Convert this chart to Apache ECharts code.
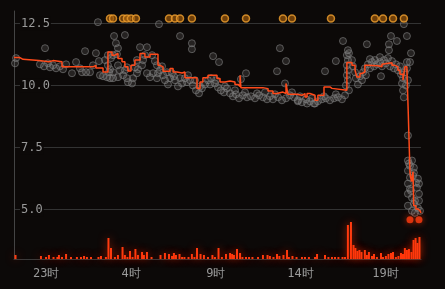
<!DOCTYPE html>
<html><head><meta charset="utf-8">
<script src="https://cdn.jsdelivr.net/npm/echarts@6/dist/echarts.min.js"></script>
<style>html,body{margin:0;padding:0;background:#0c0908;}#c{width:445px;height:289px;}</style>
</head><body><div id="c"></div>
<script>
// time in hours since midnight of day 1 (24+ = next day), price values
const xRange = [21.1, 45.1];
const yTicks = [5, 7.5, 10, 12.5];
const xTicks = [23, 28, 33, 38, 43];

const stepLine = [[21.1,11.12],[21.45,11.05],[21.63,11.0],[22.57,10.95],[23.16,11.0],[23.4,10.95],[23.93,10.75],[25.76,10.81],[25.93,10.70],[26.35,10.54],[26.64,11.35],[26.88,11.22],[27.05,11.29],[27.23,11.08],[27.47,10.95],[27.64,10.75],[27.82,10.58],[28.0,10.81],[28.23,11.02],[28.53,11.29],[28.82,11.15],[29.12,11.26],[29.59,10.81],[29.71,10.75],[29.89,10.57],[30.3,10.68],[30.48,10.54],[30.71,10.50],[31.01,10.54],[31.18,10.31],[31.89,9.87],[32.07,10.14],[32.24,10.31],[32.54,10.41],[33.07,10.28],[33.25,10.14],[33.54,10.18],[33.84,10.14],[34.13,10.04],[34.31,9.96],[34.43,10.41],[34.48,9.91],[35.78,9.87],[36.08,9.77],[36.37,9.67],[36.61,9.73],[36.96,9.67],[37.14,10.08],[37.25,9.64],[37.78,9.60],[38.08,9.67],[38.26,9.53],[38.38,9.67],[38.55,9.60],[38.85,9.40],[39.02,9.60],[39.38,9.94],[39.73,9.88],[39.85,9.80],[40.73,10.92],[41.03,10.81],[41.21,10.61],[41.32,10.34],[41.5,10.48],[41.62,10.54],[41.79,10.81],[41.91,10.79],[42.56,10.75],[42.8,10.85],[42.86,10.91],[43.39,10.81],[43.56,10.75],[43.74,10.61],[43.86,10.45],[44.04,10.21],[44.15,10.75],[44.27,10.61],[44.35,8.87],[44.45,6.48],[44.54,6.12],[44.63,6.52],[44.67,5.15],[44.8,5.02],[44.92,4.94],[45.04,4.86],[45.1,4.86]];

const trades = [[21.16,10.89],[21.22,11.10],[22.63,10.85],[22.87,10.77],[23.10,10.89],[23.22,10.73],[23.40,10.81],[23.58,10.69],[23.81,10.77],[23.99,10.65],[24.17,10.85],[22.93,11.50],[24.52,10.49],[24.76,10.94],[24.99,10.69],[25.11,10.53],[25.35,10.53],[25.58,10.53],[25.29,11.38],[25.93,11.30],[26.11,10.98],[26.05,12.55],[25.76,10.81],[26.17,10.41],[26.35,10.37],[26.58,10.33],[26.47,11.02],[26.64,10.81],[26.76,10.65],[26.64,11.22],[26.70,10.53],[26.76,10.29],[26.94,10.29],[26.82,11.10],[26.94,11.22],[27.17,11.26],[27.23,11.50],[27.11,11.70],[27.00,11.99],[27.64,12.03],[26.94,10.53],[27.23,10.81],[27.35,10.61],[27.23,10.33],[27.53,10.41],[27.64,10.61],[27.76,10.73],[27.76,10.29],[27.82,10.13],[28.06,10.08],[28.12,10.29],[28.23,10.73],[28.35,10.49],[28.35,11.02],[28.41,10.65],[28.65,10.81],[28.71,11.02],[28.82,11.22],[28.53,11.54],[28.94,11.54],[28.94,10.49],[29.12,10.33],[29.24,11.22],[29.30,10.49],[29.41,10.98],[29.53,10.81],[29.53,10.29],[29.59,10.49],
[29.65,12.47],[30.89,11.99],[31.59,11.70],[31.59,11.46],[29.71,10.61],[29.89,10.41],[30.00,10.21],[30.18,10.04],[30.30,10.29],[30.42,10.49],[30.59,10.21],[30.77,9.96],[31.01,10.08],[31.18,10.29],[31.36,10.41],[31.48,10.21],[31.65,10.00],[31.83,9.80],[32.01,9.68],[32.18,9.88],[32.36,10.04],[32.54,10.21],[32.72,10.29],[32.84,11.18],[33.19,10.94],[32.95,10.08],[33.13,9.92],[33.30,9.80],[33.48,9.72],[33.66,9.88],[33.84,9.68],[34.01,9.56],[34.19,9.64],[34.37,9.48],[34.48,10.25],[34.78,10.49],[34.60,9.60],[34.84,9.52],[35.07,9.56],[35.31,9.48],[35.55,9.60],[35.78,9.52],[36.02,9.44],[36.19,9.56],[36.37,9.44],[36.61,10.57],[36.78,11.50],[37.14,10.98],[37.08,10.08],[36.67,9.52],[36.90,9.40],[37.14,9.48],[37.37,9.60],[37.61,9.52],[37.84,9.40],[38.08,9.32],[38.32,9.44],[38.55,9.36],[38.79,9.27],[39.02,9.36],[39.26,9.44],[39.49,9.48],[39.73,9.40],[39.97,9.48],[40.20,9.52],[40.44,9.44],[40.62,9.60],
[29.83,10.77],[30.12,10.53],[30.53,10.37],[30.89,10.29],[31.30,10.13],[31.77,10.21],[32.07,9.96],[32.66,10.04],[33.01,10.21],[33.54,9.96],[34.13,9.80],[34.72,9.72],[35.43,9.68],[35.90,9.72],[36.49,9.64],[37.49,9.72],[37.96,9.56],[38.67,9.48],[39.38,9.56],[40.08,9.64],
[37.84,9.36],[38.38,9.27],[38.85,9.27],[39.44,10.57],[40.08,10.98],[40.50,11.79],[40.67,10.00],[40.79,11.42],[40.85,11.30],[40.73,11.22],[40.79,11.02],[40.73,10.81],[40.79,10.61],[40.73,10.41],[40.79,10.21],[40.85,9.80],[41.03,11.02],[41.09,10.77],[41.21,10.53],[41.26,10.29],[41.38,10.04],[41.50,10.37],[41.62,10.21],[41.68,10.53],[41.79,10.69],[41.85,10.41],[41.91,11.66],[41.97,10.85],[42.09,11.06],[42.09,10.69],[42.21,10.94],[42.33,10.77],[42.38,11.02],[42.50,10.85],[42.68,11.14],[42.68,10.94],[42.74,10.37],[42.80,10.77],[42.92,11.02],[43.03,10.89],[43.15,11.10],[43.21,11.66],[43.21,11.42],[43.27,10.77],[43.33,11.99],[43.39,10.98],[43.50,10.69],[43.62,10.85],[43.68,11.79],[43.74,10.61],[43.86,10.77],[43.92,10.45],[43.98,10.08],[44.04,10.29],[44.04,9.80],[44.09,9.52],[44.09,12.47],[44.15,10.53],[44.21,10.00],[44.27,11.99],[44.27,10.69],[44.27,10.94],[44.33,10.21],[44.45,10.94],[44.51,11.30],
[44.33,7.98],[44.33,6.97],[44.57,6.97],[44.45,6.76],[44.68,6.68],[44.33,6.56],[44.68,6.48],[44.45,6.28],[44.92,6.24],[44.33,6.04],[44.98,6.04],[44.45,5.83],[44.86,5.87],[44.98,5.63],[44.33,5.63],[44.57,5.47],[44.74,5.35],[44.98,5.35],[44.33,5.15],[44.92,5.06],[44.57,4.94],[44.74,4.86],[45.04,4.94],[44.39,6.85],[44.63,6.36],[44.80,6.08],[44.51,5.75],[44.68,5.23]];

const highTrades = [[26.76,12.7],[26.94,12.7],[27.53,12.7],[27.76,12.7],[28.00,12.7],[28.29,12.7],[30.24,12.7],[30.59,12.7],[30.89,12.7],[31.59,12.7],[33.54,12.7],[34.78,12.7],[36.96,12.7],[37.49,12.7],[39.79,12.7],[42.38,12.7],[42.86,12.7],[43.45,12.7],[44.09,12.7]];

const lowTrades = [[44.45,4.58],[44.98,4.58]];

const volume = [[21.19,4],[22.69,3],[22.99,2],[23.16,4],[23.43,2],[23.66,2],[23.75,4],[23.93,2],[24.17,5],[24.46,2],[24.81,2],[25.05,2],[25.23,3],[25.40,2],[25.64,2],[26.08,2],[26.23,3],[26.52,2],[26.67,21],[26.82,11],[27.05,2],[27.23,4],[27.50,12],[27.64,4],[27.79,2],[27.94,8],[28.09,2],[28.26,10],[28.41,4],[28.65,7],[28.76,4],[28.94,7],
[29.21,2],[29.74,4],[30.00,6],[30.24,5],[30.42,3],[30.53,6],[30.65,4],[30.86,5],[31.01,2],[31.15,2],[31.39,2],[31.59,5],[31.74,2],[31.89,11],[32.10,5],[32.30,4],[32.54,2],[32.80,4],[32.95,2],[33.16,11],[33.36,2],[33.60,5],[33.84,6],[33.96,5],[34.07,4],[34.25,10],[34.43,6],[34.57,2],[34.78,2],[34.96,2],[35.16,2],[35.49,2],[35.78,4],[36.05,4],[36.19,3],[36.40,2],[36.61,5],[36.75,3],[36.99,4],[37.20,9],[37.31,2],[37.52,3],[37.76,2],
[38.08,2],[38.26,2],[38.49,2],[38.85,2],[38.97,5],[39.44,4],[39.64,2],[39.85,2],[40.03,2],[40.23,2],[40.47,2],[40.62,2],[40.79,34],[40.97,37],[41.12,14],[41.23,11],[41.35,8],[41.47,9],[41.59,7],[41.79,9],[41.91,4],[42.03,7],[42.21,3],[42.33,5],[42.50,2],[42.74,6],[42.86,2],[43.03,3],[43.18,5],[43.33,6],[43.45,7],[43.62,2],[43.77,3],[43.92,6],[44.04,5],[44.15,11],[44.27,9],[44.39,10],[44.54,7],[44.66,19],[44.78,21],[44.89,16],[45.01,22]];

const BG = '#0c0908';
const TXT = '#9a9a9a';
const FONT = '"DejaVu Sans Mono", monospace';

const chart = echarts.init(document.getElementById('c'), null, {renderer: 'canvas'});
chart.setOption({
  backgroundColor: BG,
  animation: false,
  grid: [
    {left: 14, right: 24, top: 11, bottom: 30},
    {left: 14, right: 24, top: 215, bottom: 30}
  ],
  xAxis: [
    {type: 'value', gridIndex: 0, min: xRange[0], max: xRange[1], show: false},
    {type: 'value', gridIndex: 1, min: xRange[0], max: xRange[1],
      axisLine: {show: true, lineStyle: {color: '#3a3a3a'}},
      axisTick: {show: false, customValues: xTicks},
      splitLine: {show: false},
      axisLabel: {customValues: xTicks, color: TXT, fontFamily: FONT, fontSize: 12, margin: 9,
        formatter: v => (Math.round(v) % 24) + '时'}}
  ],
  yAxis: [
    {type: 'value', gridIndex: 0, min: 3, max: 13,
      axisLine: {show: true, lineStyle: {color: '#444'}},
      axisTick: {show: false, customValues: yTicks},
      splitLine: {show: true, lineStyle: {color: '#333', width: 1}},
      axisLabel: {customValues: yTicks, inside: true, margin: 6, color: TXT, fontFamily: FONT, fontSize: 12,
        backgroundColor: BG, padding: [1, 1],
        formatter: v => v.toFixed(1)}},
    {type: 'value', gridIndex: 1, min: 0, max: 44, show: false}
  ],
  series: [
    {type: 'bar', xAxisIndex: 1, yAxisIndex: 1, data: volume, barWidth: 2,
      itemStyle: {color: '#ff3c10', shadowBlur: 8, shadowColor: 'rgba(255,50,0,0.7)'}, z: 1},
    {type: 'scatter', data: trades, symbolSize: 7,
      itemStyle: {color: 'rgba(165,165,165,0.2)', borderColor: 'rgba(120,120,120,0.85)', borderWidth: 1}, z: 2},
    {type: 'line', data: stepLine, step: 'end', showSymbol: false, symbol: 'none',
      lineStyle: {color: '#ff4a1a', width: 1.5}, z: 3},
    {type: 'scatter', data: highTrades, symbolSize: 7,
      itemStyle: {color: 'rgba(150,85,10,0.9)', borderColor: '#f0a030', borderWidth: 1.5}, z: 4},
    {type: 'scatter', data: lowTrades, symbolSize: 7,
      itemStyle: {color: '#ff3c10', shadowBlur: 6, shadowColor: 'rgba(255,50,0,0.8)'}, z: 4}
  ]
});
</script></body></html>
